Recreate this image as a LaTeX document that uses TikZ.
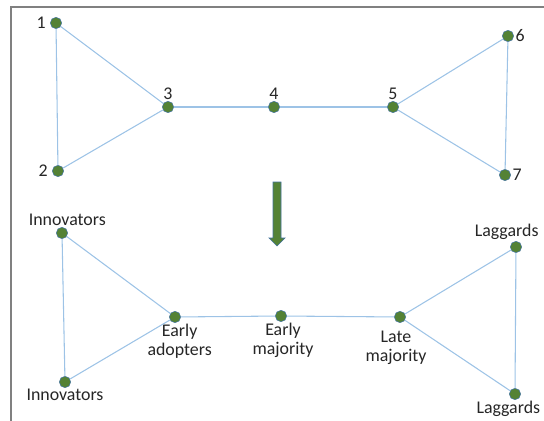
\documentclass[tikz,border=0pt]{standalone}
\usepackage{fontspec}
\setmainfont{Carlito}
\definecolor{dotgreen}{HTML}{548235}
\definecolor{dotblue}{HTML}{41719C}
\definecolor{edgeblue}{HTML}{9DC3E6}
\begin{document}
\begin{tikzpicture}[x=0.75pt, y=-0.75pt,
    dot/.style = {circle, fill=dotgreen, draw=dotblue, line width=0.4pt, inner sep=0pt, minimum size=8.5pt},
    every label/.style = {font=\fontsize{13.4}{14}\selectfont, text=black!85, inner sep=1pt, align=center},
    edge/.style = {draw=edgeblue, line width=0.8pt}]
  \useasboundingbox (0,0) rectangle (544,421);
  \draw[black!50, line width=1.5pt] (11,421) -- (11,7) -- (544,7);

  % numbered network
  \node[dot, label={[label distance=2pt]left:1}] (n1) at (56,23) {};
  \node[dot, label={[label distance=2pt]left:2}] (n2) at (58,171) {};
  \node[dot, label=above:3] (n3) at (168,107) {};
  \node[dot, label=above:4] (n4) at (274,107) {};
  \node[dot, label=above:5] (n5) at (393,107) {};
  \node[dot, label=right:6] (n6) at (508,36) {};
  \node[dot, label=right:7] (n7) at (505,175) {};
  \foreach \a/\b in {1/2,1/3,2/3,3/4,4/5,5/6,5/7,6/7}
    \draw[edge] (n\a) -- (n\b);

  % block arrow
  \filldraw[fill=dotgreen, draw=dotblue, line width=0.5pt]
    (273,182) -- (281,182) -- (281,238) -- (285,238) -- (277,246)
    -- (269,238) -- (273,238) -- cycle;

  % named network
  \node[dot, label={[xshift=4pt]above:Innovators}] (inn1) at (62,233) {};
  \node[dot, label=below:Innovators] (inn2) at (65,382) {};
  \node[dot, label={[xshift=3.5pt]below:{Early\\adopters}}] (eadopt) at (175,317) {};
  \node[dot, label={[xshift=1.5pt]below:{Early\\majority}}] (emaj) at (281,316) {};
  \node[dot, label={[xshift=-3pt, label distance=5pt]below:{Late\\majority}}] (lmaj) at (400,317) {};
  \node[dot, label={[xshift=-7pt]above:Laggards}] (lag1) at (516,247) {};
  \node[dot, label={[xshift=-5pt]below:Laggards}] (lag2) at (515,394) {};
  \foreach \a/\b in {inn1/inn2,inn1/eadopt,inn2/eadopt,eadopt/emaj,emaj/lmaj,lmaj/lag1,lmaj/lag2,lag1/lag2}
    \draw[edge] (\a) -- (\b);
\end{tikzpicture}
\end{document}
